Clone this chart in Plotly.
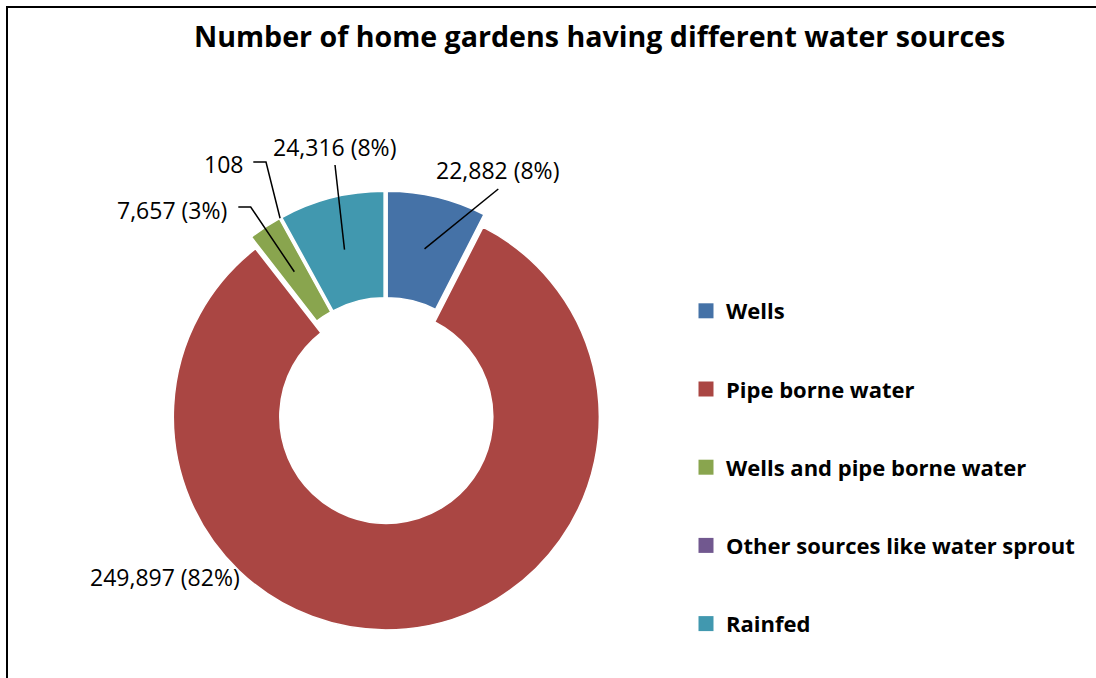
import math
import plotly.graph_objects as go

# ---- data ----
categories = ["Wells", "Pipe borne water", "Wells and pipe borne water",
              "Other sources like water sprout", "Rainfed"]
values = [22882, 249897, 7657, 108, 24316]
label_texts = ["22,882 (8%)", "249,897 (82%)", "7,657 (3%)", "108", "24,316 (8%)"]
colors = ["#4572A7", "#AA4643", "#89A54E", "#71588F", "#4198AF"]
title_text = "Number of home gardens having different water sources"

# ---- layout constants (pixels) ----
W, H = 1096, 678
PULL = 0.03
HOLE = 0.5
CX, CY, R = 385.7, 410.5, 213.0
FONT = "Open Sans"

half = R * (1 + PULL)
dom_x = [(CX - half) / W, (CX + half) / W]
dom_y = [1 - (CY + half) / H, 1 - (CY - half) / H]


def px(x, y):
    return x / W, 1 - y / H


fig = go.Figure()
fig.add_trace(go.Pie(
    labels=categories, values=values, sort=False, direction="clockwise",
    rotation=0, hole=HOLE, pull=[PULL] * len(values),
    marker=dict(colors=colors, line=dict(color="white", width=1.5)),
    textinfo="none", showlegend=False, domain=dict(x=dom_x, y=dom_y),
))

# legend entries (one group per category to control spacing)
for cat, col in zip(categories, colors):
    fig.add_trace(go.Scatter(
        x=[None], y=[None], mode="markers", name=cat, legendgroup=cat,
        marker=dict(symbol="square", size=15, color=col),
    ))

# label positions: text x/y, xanchor, leader points before the anchor, anchor radius kind
label_layout = [
    dict(x=498, y=170, xa="center", lead=[(498.3, 189)], rad="mid"),
    dict(x=165, y=577, xa="center", lead=[], rad=None),
    dict(x=229, y=210, xa="right", lead=[(238.3, 207), (250.7, 207)], rad="mid"),
    dict(x=245, y=164, xa="right", lead=[(253.3, 162), (266, 162)], rad="outer"),
    dict(x=335, y=147, xa="center", lead=[(335, 165)], rad="mid"),
]

total = sum(values)
cum = 0.0
shapes = []
annotations = []
for v, txt, lay in zip(values, label_texts, label_layout):
    theta = (cum + v / 2) / total * 2 * math.pi
    cum += v
    x0, y0 = px(lay["x"], lay["y"])
    annotations.append(dict(
        x=x0, y=y0, xref="paper", yref="paper", text=txt, showarrow=False,
        xanchor=lay["xa"], yanchor="middle",
        font=dict(family=FONT, size=23, color="black"),
    ))
    if lay["rad"] is None:
        continue
    rho = R * (1 + HOLE) / 2 if lay["rad"] == "mid" else R
    rho += PULL * R
    ax = CX + rho * math.sin(theta)
    ay = CY - rho * math.cos(theta)
    pts = lay["lead"] + [(ax, ay)]
    path = "M " + " L ".join("%.5f,%.5f" % px(x, y) for x, y in pts)
    shapes.append(dict(type="path", path=path, xref="paper", yref="paper",
                       line=dict(color="black", width=1.5)))

# chart border
shapes.append(dict(type="rect", xref="paper", yref="paper",
                   x0=7 / W, x1=1.02, y0=-0.02, y1=1 - 7 / H,
                   line=dict(color="black", width=2)))

annotations.append(dict(
    x=599 / W, y=1 - 35 / H, xref="paper", yref="paper", text="<b>" + title_text + "</b>",
    showarrow=False, xanchor="center", yanchor="middle",
    font=dict(family=FONT, size=28.6, color="black"),
))

fig.update_layout(
    width=W, height=H, margin=dict(l=0, r=0, t=0, b=0),
    paper_bgcolor="white", plot_bgcolor="white",
    xaxis=dict(visible=False), yaxis=dict(visible=False),
    shapes=shapes, annotations=annotations,
    legend=dict(x=686 / W, y=1 - 290 / H, xanchor="left", yanchor="top",
                font=dict(family=FONT, size=22, color="black", weight="bold"),
                tracegroupgap=46.6, bgcolor="rgba(0,0,0,0)"),
)

fig.write_html("out.html", config={"displayModeBar": False},
               post_script="document.body.style.margin='0';")
